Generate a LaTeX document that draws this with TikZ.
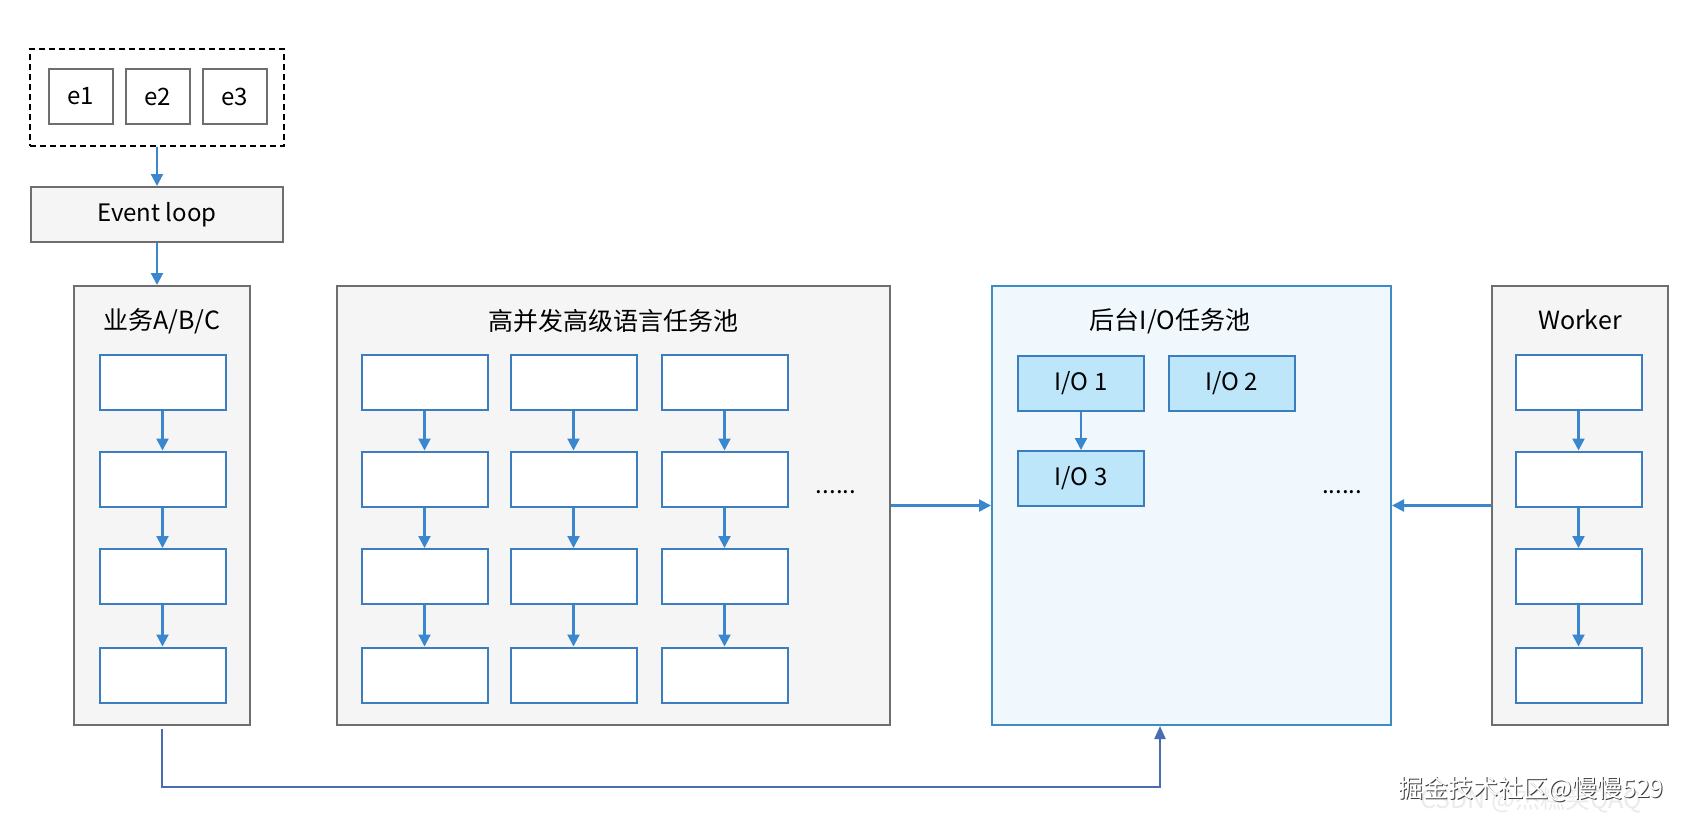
\documentclass[tikz,border=0pt]{standalone}
\usepackage{fontspec}
\setmainfont{Noto Sans CJK SC}
\usetikzlibrary{arrows.meta}
\definecolor{greyfill}{HTML}{F5F5F5}
\definecolor{greyline}{HTML}{6E6E6E}
\definecolor{bluebox}{HTML}{3A7EBF}
\definecolor{bluearrow}{HTML}{3A86CF}
\definecolor{iofill}{HTML}{F0F8FE}
\definecolor{ioline}{HTML}{3D8CC6}
\definecolor{iobox}{HTML}{BEE6FA}
\definecolor{bottomline}{HTML}{4A6CB3}
\tikzset{
  txt/.style={font=\fontsize{24}{28}\selectfont},
  ttl/.style={font=\fontsize{25}{30}\selectfont},
  greybox/.style={draw=greyline, fill=greyfill, line width=2pt, inner sep=0pt, rectangle},
  ebox/.style={draw=greyline, fill=white, line width=2pt, inner sep=0pt, minimum width=64pt, minimum height=55pt, txt},
  taskbox/.style={draw=bluebox, fill=white, line width=2pt, inner sep=0pt, minimum width=126pt, minimum height=55pt},
  iotask/.style={draw=bluebox, fill=iobox, line width=2pt, inner sep=0pt, minimum width=126pt, minimum height=55pt, txt},
  arr/.style={draw=bluearrow, line width=2.2pt, -{Triangle[length=12pt,width=12pt]}},
  barr/.style={draw=bottomline, line width=2.2pt, -{Triangle[length=13pt,width=11pt]}},
}
\begin{document}
\begin{tikzpicture}[x=1pt,y=-1pt]
\useasboundingbox (0,0) rectangle (1697,827);
\fill[white] (0,0) rectangle (1697,827);

% event group
\node[draw=black, dashed, dash pattern=on 6pt off 4pt, line width=2pt, minimum width=254pt, minimum height=97pt, inner sep=0pt] (evgroup) at (157,97.5) {};
\node[ebox] (e1) at (81,96.5) {e1};
\node[ebox] (e2) at (158,96.5) {e2};
\node[ebox] (e3) at (234.5,96.5) {e3};
\node[greybox, minimum width=252pt, minimum height=55pt, txt] (loop) at (157,214.5) {Event loop};

% business A/B/C
\node[greybox, minimum width=176pt, minimum height=439pt] (biz) at (162,505.5) {};
\node[ttl] (biztitle) at (162,321) {业务A/B/C};
\foreach \r/\y in {1/382.5,2/479,3/576.5,4/675}{
  \node[taskbox] (a\r) at (162.5,\y) {};
}
\foreach \r/\s in {1/2,2/3,3/4}{
  \draw[arr] (a\r) -- (a\s);
}

% high-concurrency pool
\node[greybox, minimum width=553pt, minimum height=439pt] (pool) at (613.5,505.5) {};
\node[ttl] (pooltitle) at (613,321) {高并发高级语言任务池};
\foreach \c/\x in {1/424.5,2/573.5,3/724.5}{
  \foreach \r/\y in {1/382.5,2/479,3/576.5,4/675}{
    \node[taskbox] (p\c\r) at (\x,\y) {};
  }
  \foreach \r/\s in {1/2,2/3,3/4}{
    \draw[arr] (p\c\r) -- (p\c\s);
  }
}
\node[txt] (pooldots) at (836,492) {......};

% IO pool
\node[draw=ioline, fill=iofill, line width=2pt, inner sep=0pt, minimum width=399pt, minimum height=439pt] (io) at (1191.5,505.5) {};
\node[ttl] (iotitle) at (1170,321) {后台I/O任务池};
\node[iotask] (io1) at (1081,383.5) {I/O 1};
\node[iotask] (io2) at (1231.5,383.5) {I/O 2};
\node[iotask] (io3) at (1081,478.5) {I/O 3};
\draw[arr] (io1) -- (io3);
\node[txt] (iodots) at (1342,492) {......};

% Worker
\node[greybox, minimum width=176pt, minimum height=439pt] (worker) at (1580,505.5) {};
\node[ttl] (workertitle) at (1580,320) {Worker};
\foreach \r/\y in {1/382.5,2/479,3/576.5,4/675}{
  \node[taskbox] (w\r) at (1578.5,\y) {};
}
\foreach \r/\s in {1/2,2/3,3/4}{
  \draw[arr] (w\r) -- (w\s);
}

% connectors
\draw[arr] (evgroup) -- (loop);
\draw[arr] (loop.south) -- (loop.south |- biz.north);
\draw[arr] (pool.east) -- (io.west);
\draw[arr] (worker.west) -- (io.east);
\coordinate (iobottom) at (1160,726);
\coordinate (bizbottom) at (162,729);
\draw[barr] (bizbottom) -- (162,787) -| (iobottom);

% watermark
\node[font=\fontsize{25}{30}\selectfont, text=black!8, anchor=west] (wm2) at (1417,800) {CSDN @杰糕笑QAQ};
\node[font=\fontsize{25}{30}\selectfont, text=black!75, anchor=west] (wm1s) at (1396,790) {掘金技术社区@慢慢529};
\node[font=\fontsize{25}{30}\selectfont, text=white, anchor=west] (wm1) at (1395,789) {掘金技术社区@慢慢529};
\end{tikzpicture}
\end{document}
